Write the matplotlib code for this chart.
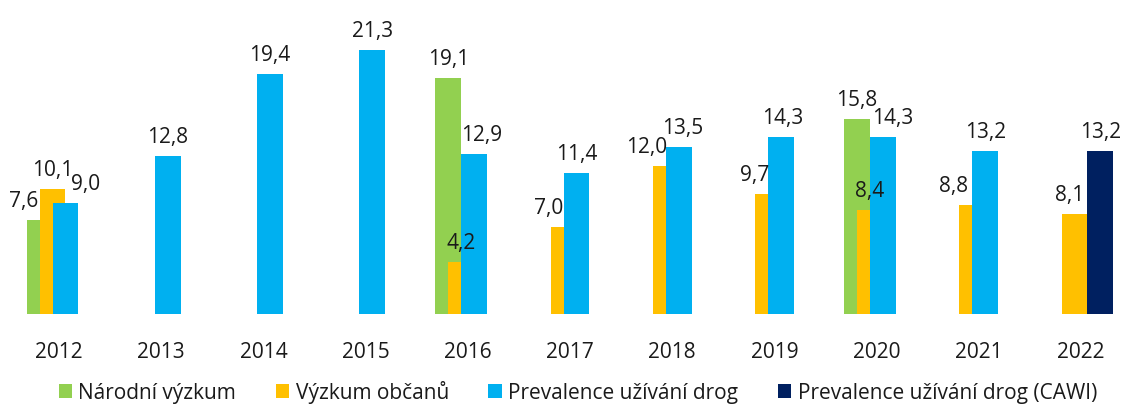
import numpy as np
import matplotlib.pyplot as plt

plt.rcParams['font.family'] = ['Open Sans', 'DejaVu Sans']

years = ['2012', '2013', '2014', '2015', '2016', '2017', '2018', '2019', '2020', '2021', '2022']
narodni = [7.6, None, None, None, 19.1, None, None, None, 15.8, None, None]
obcanu = [10.1, None, None, None, 4.2, 7.0, 12.0, 9.7, 8.4, 8.8, 8.1]
prevalence = [9.0, 12.8, 19.4, 21.3, 12.9, 11.4, 13.5, 14.3, 14.3, 13.2, None]
cawi = [None, None, None, None, None, None, None, None, None, None, 13.2]

series = [
    ('Národní výzkum', narodni, '#92D050'),
    ('Výzkum občanů', obcanu, '#FFC000'),
    ('Prevalence užívání drog', prevalence, '#00B0F0'),
    ('Prevalence užívání drog (CAWI)', cawi, '#002060'),
]

# horizontal nudges of some value labels (pixels), keyed by (series, year index)
nudges = {(0, 0): -16, (2, 0): 20, (2, 4): 7, (1, 5): -15, (1, 6): -19, (2, 6): 4,
          (1, 7): -13, (2, 7): 2, (2, 8): 10, (1, 9): -19, (1, 10): -5}

fig = plt.figure(figsize=(11.22, 4.07), dpi=100)
ax = fig.add_axes([0, 93 / 407, 1, 314 / 407])

x = np.arange(len(years))
width = 0.254
step = 0.127
px = 72 / 100

handles = []
for i, (name, vals, color) in enumerate(series):
    off = (i - 1.5) * step
    h = ax.bar(x[0] + off, 0, width, color=color, label=name)
    handles.append(h)
    for j, v in enumerate(vals):
        if v is None:
            continue
        ax.bar(x[j] + off, v, width, color=color)
        label = ('%.1f' % v).replace('.', ',')
        ax.annotate(label, (x[j] + off, v), xytext=(nudges.get((i, j), 0) * px, 13 * px),
                    textcoords='offset points', ha='center', va='baseline',
                    fontsize=15, color='#1a1a1a')

ax.set_xlim(-59 / 102.2, 1063 / 102.2)
ax.set_ylim(0, 25.38)
ax.set_xticks(x)
ax.set_xticklabels(years, fontsize=15, color='#1a1a1a')
ax.tick_params(axis='x', length=0, pad=20)
ax.set_yticks([])
for s in ax.spines.values():
    s.set_visible(False)

fig.legend(handles=handles, loc='lower center', bbox_to_anchor=(0.515, -0.038), ncol=4,
           frameon=False, fontsize=15, handlelength=0.65, handleheight=0.65,
           handletextpad=0.3, columnspacing=1.9, labelcolor='#1a1a1a')

fig.savefig('out.png', dpi=100)
